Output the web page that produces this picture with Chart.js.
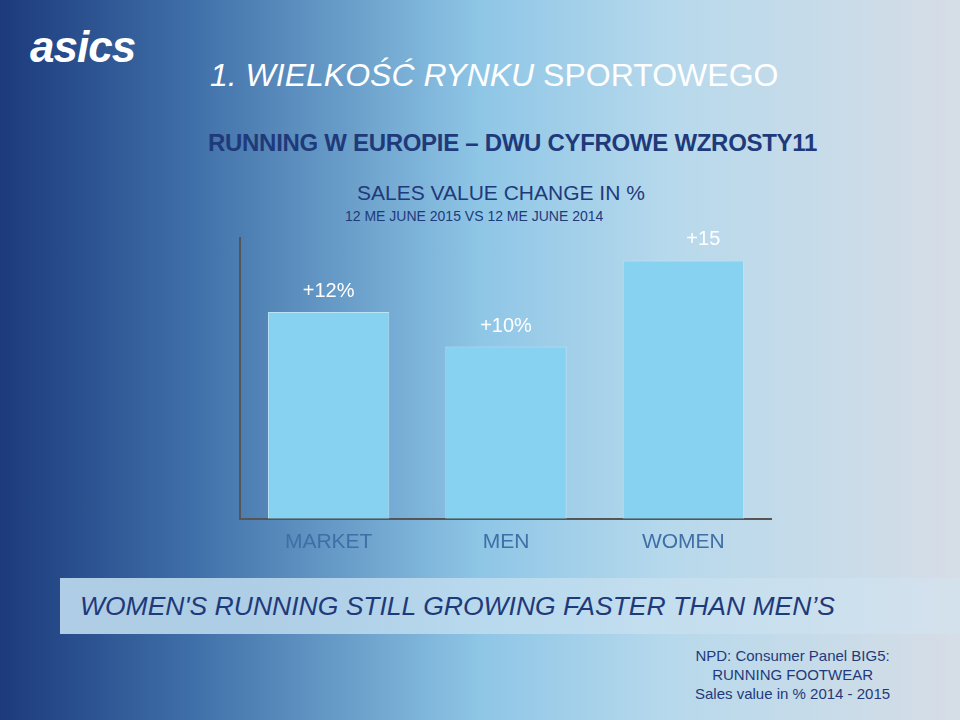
<!DOCTYPE html>
<html><head><meta charset="utf-8">
<script src="https://cdn.jsdelivr.net/npm/chart.js@4"></script>
<style>
html,body{margin:0;padding:0;width:960px;height:720px;overflow:hidden;font-family:"Liberation Sans",Arial,sans-serif}
body{background:linear-gradient(90deg,#1c3a7c 0%,#3f6fa8 20%,#8ec6e6 50%,#b7d9ec 70%,#d6dde6 100%)}
.t{position:absolute;white-space:nowrap}
#wrap{position:absolute;left:232px;top:228px;width:540px;height:330px}
</style></head><body>
<div class="t" style="left:30px;top:22px;color:#fff;font:bold italic 44px 'Liberation Sans';letter-spacing:-1px">asics</div>
<div class="t" style="left:210px;top:57px;color:#fff;font-size:32px"><i>1. WIELKOŚĆ RYNKU</i> SPORTOWEGO</div>
<div class="t" style="left:208px;top:129px;color:#1f3a7a;font-weight:bold;font-size:24px;letter-spacing:-0.3px">RUNNING W EUROPIE – DWU CYFROWE WZROSTY11</div>
<div class="t" style="left:357px;top:181px;color:#1f3a7a;font-size:21px">SALES VALUE CHANGE IN %</div>
<div class="t" style="left:345px;top:208px;color:#1f3a7a;font-size:14px">12 ME JUNE 2015 VS 12 ME JUNE 2014</div>
<div id="wrap"><canvas id="c"></canvas></div>
<div style="position:absolute;left:60px;top:578px;width:900px;height:56px;background:linear-gradient(90deg,rgba(190,220,240,.9),rgba(210,228,240,.6))"></div>
<div class="t" style="left:80px;top:591px;color:#1f3a7a;font-style:italic;font-size:26.5px">WOMEN'S RUNNING STILL GROWING FASTER THAN MEN’S</div>
<div class="t" style="left:695px;top:646px;color:#1f3a7a;font-size:15px;line-height:19px;text-align:center">NPD: Consumer Panel BIG5:<br>RUNNING FOOTWEAR<br>Sales value in % 2014 - 2015</div>
<script>
const categories=["MARKET","MEN","WOMEN"];
const values=[12,10,15];
const valueLabels=["+12%","+10%","+15"];
const lbl={id:"lbl",afterDatasetsDraw(ch){const c=ch.ctx;const m=ch.getDatasetMeta(0);c.save();c.fillStyle="#fff";c.font="20px 'Liberation Sans'";c.textAlign="center";m.data.forEach((b,i)=>{c.fillText(valueLabels[i],b.x+(i==2?20:0),b.y-15);});c.restore();}};
new Chart(document.getElementById("c"),{type:"bar",
data:{labels:categories,datasets:[{data:values,backgroundColor:"#86d2f0",borderColor:"#b8e4f5",borderWidth:1,barPercentage:0.72,categoryPercentage:0.95}]},
options:{responsive:true,maintainAspectRatio:false,animation:false,layout:{padding:{top:10}},
plugins:{legend:{display:false},tooltip:{enabled:false}},
scales:{y:{min:0,max:16.3,ticks:{display:false},grid:{display:false},border:{color:"#555",width:2}},
x:{grid:{display:false},border:{color:"#555",width:2},ticks:{color:"#3f6fa6",font:{size:21,family:"Liberation Sans"}}}}},
plugins:[lbl]});
</script></body></html>
